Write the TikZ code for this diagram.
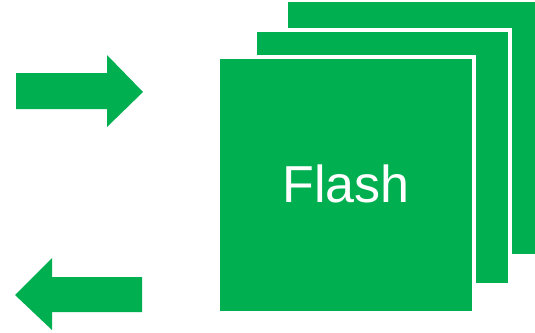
\documentclass[tikz,border=0pt]{standalone}
\usepackage{fontspec}
\setmainfont{Liberation Sans}
\definecolor{flashgreen}{HTML}{00B050}
\begin{document}
\begin{tikzpicture}[x=1pt,y=-1pt,
  card/.style={fill=flashgreen,draw=white,line width=4pt},
  arrowshape/.style={fill=flashgreen,draw=none}]
\useasboundingbox (0,0) rectangle (535,332);
\begin{scope}
\clip (0,0) rectangle (535,332);
\path[card] (286,0) rectangle (542,256);
\path[card] (255,30) rectangle (510,285);
\path[card] (218,57) rectangle (474,313);
\end{scope}
\node[text=white,font=\fontsize{52}{60}\selectfont,inner sep=0pt] (flash) at (346,184) {Flash};
\path[arrowshape] (16,73) -- (107,73) -- (107,55) -- (143,92) -- (107,127) -- (107,109) -- (16,109) -- cycle;
\path[arrowshape] (142,277) -- (52,277) -- (52,258) -- (15,295) -- (52,330) -- (52,312) -- (142,312) -- cycle;
\end{tikzpicture}
\end{document}
